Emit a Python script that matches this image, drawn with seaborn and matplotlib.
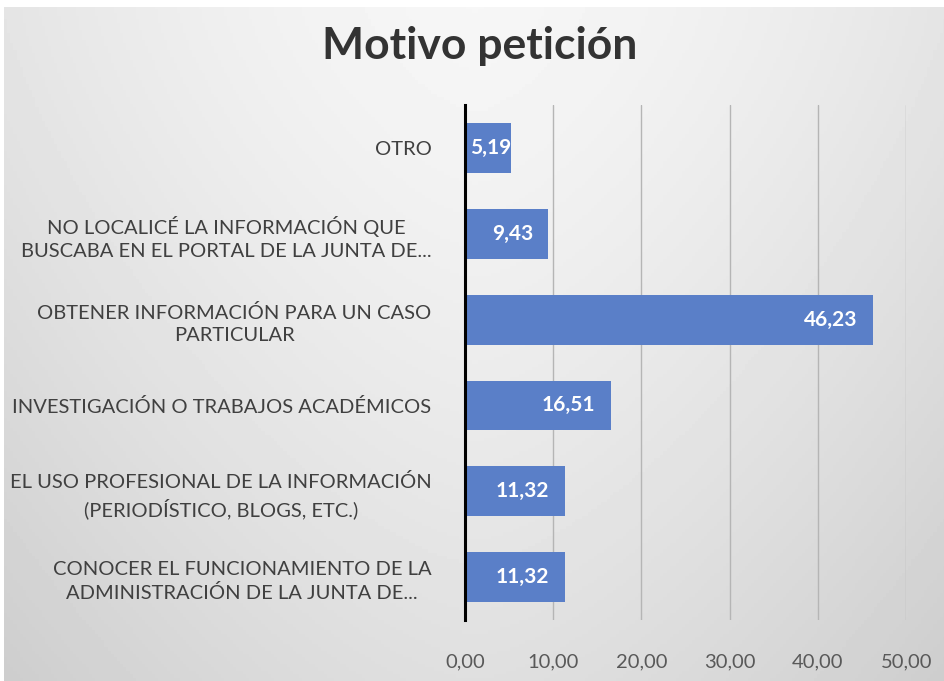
import numpy as np
import pandas as pd
import matplotlib.pyplot as plt
import seaborn as sns

categories = [
    "OTRO",
    "NO LOCALICÉ LA INFORMACIÓN QUE\nBUSCABA EN EL PORTAL DE LA JUNTA DE...",
    "OBTENER INFORMACIÓN PARA UN CASO\nPARTICULAR",
    "INVESTIGACIÓN O TRABAJOS ACADÉMICOS",
    "EL USO PROFESIONAL DE LA INFORMACIÓN\n(PERIODÍSTICO, BLOGS, ETC.)",
    "CONOCER EL FUNCIONAMIENTO DE LA\nADMINISTRACIÓN DE LA JUNTA DE...",
]
values = [5.19, 9.43, 46.23, 16.51, 11.32, 11.32]
x_ticks = [0, 10, 20, 30, 40, 50]

df = pd.DataFrame({"motivo": categories, "pct": values})

sns.set_theme(style="white")
plt.rcParams["font.family"] = ["Lato", "DejaVu Sans"]

fig = plt.figure(figsize=(9.45, 6.81), dpi=100)
fig.patch.set_facecolor("white")

# soft light-grey gradient background
bg = fig.add_axes([0.004, 0, 0.996, 0.99], zorder=-10)
gx = np.linspace(-1, 1, 300)
gy = np.linspace(0, 1, 200)
X, Y = np.meshgrid(gx, gy)
shade = 0.965 - 0.07 * np.abs(X) ** 1.5 - 0.09 * Y ** 1.3
bg.imshow(shade, cmap="gray", vmin=0, vmax=1, aspect="auto",
          extent=[0, 1, 0, 1], origin="upper")
bg.axis("off")

ax = fig.add_axes([0.492, 0.0896, 0.467, 0.756])
ax.set_facecolor("none")

sns.barplot(data=df, x="pct", y="motivo", color="#5a7fc8", width=0.58,
            saturation=1, linewidth=0, ax=ax)

ax.set_xlim(0, 50)
ax.set_xticks(x_ticks)
ax.set_xticklabels([f"{t:.2f}".replace(".", ",") for t in x_ticks],
                   fontsize=14.5, color="#595959")
ax.tick_params(axis="x", length=0, pad=24)
ax.tick_params(axis="y", length=0, pad=24, labelsize=14.5, labelcolor="#404040")
for lbl in ax.get_yticklabels():
    lbl.set_horizontalalignment("right")
    lbl.set_multialignment("center")
    lbl.set_linespacing(1.4)

ax.xaxis.grid(True, color="#b5b5b5", linewidth=1)
ax.set_axisbelow(True)
for s in ["top", "right", "bottom"]:
    ax.spines[s].set_visible(False)
ax.spines["left"].set_color("black")
ax.spines["left"].set_linewidth(2.2)
ax.spines["left"].set_zorder(5)
ax.set_xlabel("")
ax.set_ylabel("")

for bar, v in zip(ax.patches, values):
    label = f"{v:.2f}".replace(".", ",")
    yc = bar.get_y() + bar.get_height() / 2
    if v < 7:
        ax.annotate(label, (0, yc), xytext=(4, 0), textcoords="offset points",
                    ha="left", va="center", color="white", fontsize=15,
                    fontweight="bold")
    else:
        ax.annotate(label, (bar.get_width(), yc), xytext=(-11, 0),
                    textcoords="offset points", ha="right", va="center",
                    color="white", fontsize=15, fontweight="bold")

fig.text(0.508, 0.932, "Motivo petición", ha="center", va="center",
         fontsize=32, fontweight="bold", color="#333333")

fig.savefig("out.png", dpi=100, facecolor=fig.get_facecolor())
